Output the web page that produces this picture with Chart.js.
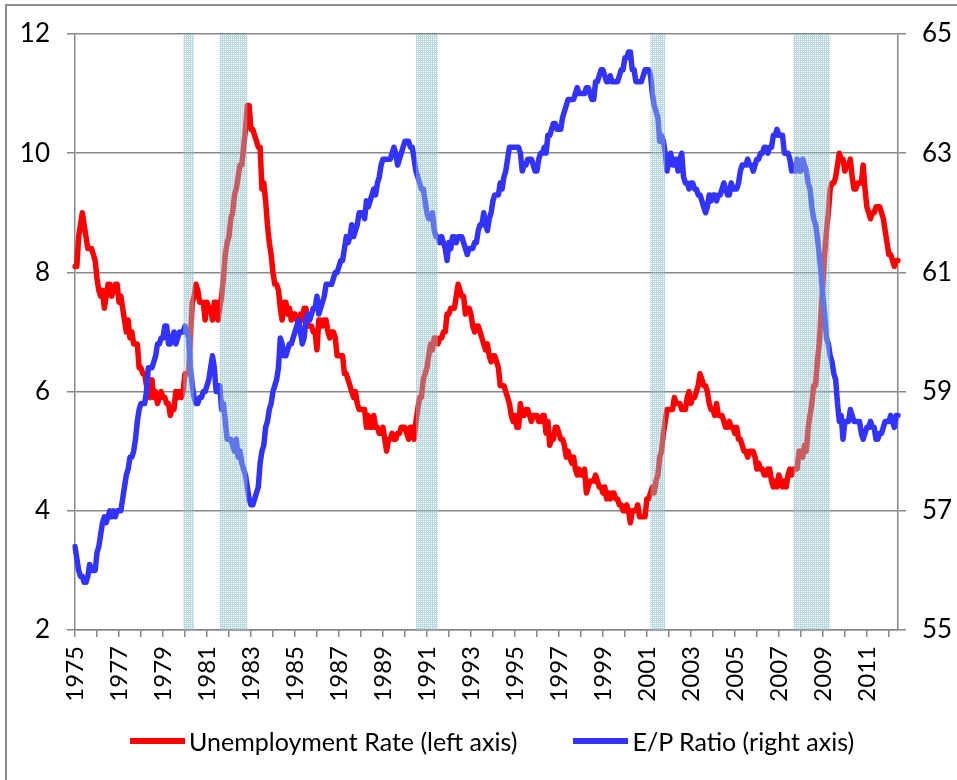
<!DOCTYPE html>
<html>
<head>
<meta charset="utf-8">
<script src="https://cdn.jsdelivr.net/npm/chart.js@4.4.1/dist/chart.umd.min.js"></script>
<style>
  html, body { margin: 0; padding: 0; background: #fff; overflow: hidden; }
  #wrap { position: relative; width: 957px; height: 780px; }
  #frame { position: absolute; left: 5px; top: 4px; width: 1000px; height: 1000px;
           border: 2px solid #8c8c8c; pointer-events: none; }
  #legend { position: absolute; left: 130px; top: 726px; display: flex; align-items: center;
            font: 25px Lato, sans-serif; color: #000; white-space: nowrap; }
  #legend .item { display: flex; align-items: center; margin-right: 56px; }
  #legend .swatch { display: inline-block; width: 55px; height: 6px; margin-right: 4px; }
</style>
</head>
<body>
<div id="wrap">
  <canvas id="chart" width="957" height="780"></canvas>
  <div id="legend"></div>
  <div id="frame"></div>
</div>
<script>
// Monthly series, Jan 1975 - Jun 2012
const firstYear = 1975;

// Unemployment rate, % (left axis)
const unemployment = [
  8.1, 8.1, 8.6, 8.8, 9.0, 8.8, 8.6, 8.4, 8.4, 8.4, 8.3, 8.2, // 1975
  7.9, 7.7, 7.6, 7.7, 7.4, 7.6, 7.8, 7.8, 7.6, 7.7, 7.8, 7.8, // 1976
  7.5, 7.6, 7.4, 7.2, 7.0, 7.2, 6.9, 7.0, 6.8, 6.8, 6.8, 6.4, // 1977
  6.4, 6.3, 6.3, 6.1, 6.0, 5.9, 6.2, 5.9, 6.0, 5.8, 5.9, 6.0, // 1978
  5.9, 5.9, 5.8, 5.8, 5.6, 5.7, 5.7, 6.0, 5.9, 6.0, 5.9, 6.0, // 1979
  6.3, 6.3, 6.3, 6.9, 7.5, 7.6, 7.8, 7.7, 7.5, 7.5, 7.5, 7.2, // 1980
  7.5, 7.4, 7.4, 7.2, 7.5, 7.5, 7.2, 7.4, 7.6, 7.9, 8.3, 8.5, // 1981
  8.6, 8.9, 9.0, 9.3, 9.4, 9.6, 9.8, 9.8, 10.1, 10.4, 10.8, 10.8, // 1982
  10.4, 10.4, 10.3, 10.2, 10.1, 10.1, 9.4, 9.5, 9.2, 8.8, 8.5, 8.3, // 1983
  8.0, 7.8, 7.8, 7.7, 7.4, 7.2, 7.5, 7.5, 7.3, 7.4, 7.2, 7.3, // 1984
  7.3, 7.2, 7.2, 7.3, 7.2, 7.4, 7.4, 7.1, 7.1, 7.1, 7.0, 7.0, // 1985
  6.7, 7.2, 7.2, 7.1, 7.2, 7.2, 7.0, 6.9, 7.0, 7.0, 6.9, 6.6, // 1986
  6.6, 6.6, 6.6, 6.3, 6.3, 6.2, 6.1, 6.0, 5.9, 6.0, 5.8, 5.7, // 1987
  5.7, 5.7, 5.7, 5.4, 5.6, 5.4, 5.4, 5.6, 5.4, 5.4, 5.3, 5.3, // 1988
  5.4, 5.2, 5.0, 5.2, 5.2, 5.3, 5.2, 5.2, 5.3, 5.3, 5.4, 5.4, // 1989
  5.4, 5.3, 5.2, 5.4, 5.4, 5.2, 5.5, 5.7, 5.9, 5.9, 6.2, 6.3, // 1990
  6.4, 6.6, 6.8, 6.7, 6.9, 6.9, 6.8, 6.9, 6.9, 7.0, 7.0, 7.3, // 1991
  7.3, 7.4, 7.4, 7.4, 7.6, 7.8, 7.7, 7.6, 7.6, 7.3, 7.4, 7.4, // 1992
  7.3, 7.1, 7.0, 7.1, 7.1, 7.0, 6.9, 6.8, 6.7, 6.8, 6.6, 6.5, // 1993
  6.6, 6.6, 6.5, 6.4, 6.1, 6.1, 6.1, 6.0, 5.9, 5.8, 5.6, 5.5, // 1994
  5.6, 5.4, 5.4, 5.8, 5.6, 5.6, 5.7, 5.7, 5.6, 5.5, 5.6, 5.6, // 1995
  5.6, 5.5, 5.5, 5.6, 5.6, 5.3, 5.5, 5.1, 5.2, 5.2, 5.4, 5.4, // 1996
  5.3, 5.2, 5.2, 5.1, 4.9, 5.0, 4.9, 4.8, 4.9, 4.7, 4.6, 4.7, // 1997
  4.6, 4.6, 4.7, 4.3, 4.4, 4.5, 4.5, 4.5, 4.6, 4.5, 4.4, 4.4, // 1998
  4.3, 4.4, 4.2, 4.3, 4.2, 4.3, 4.3, 4.2, 4.2, 4.1, 4.1, 4.0, // 1999
  4.0, 4.1, 4.0, 3.8, 4.0, 4.0, 4.0, 4.1, 3.9, 3.9, 3.9, 3.9, // 2000
  4.2, 4.2, 4.3, 4.4, 4.3, 4.5, 4.6, 4.9, 5.0, 5.3, 5.5, 5.7, // 2001
  5.7, 5.7, 5.7, 5.9, 5.8, 5.8, 5.8, 5.7, 5.7, 5.7, 5.9, 6.0, // 2002
  5.8, 5.9, 5.9, 6.0, 6.1, 6.3, 6.2, 6.1, 6.1, 6.0, 5.8, 5.7, // 2003
  5.7, 5.6, 5.8, 5.6, 5.6, 5.6, 5.5, 5.4, 5.4, 5.5, 5.4, 5.4, // 2004
  5.3, 5.4, 5.2, 5.2, 5.1, 5.0, 5.0, 4.9, 5.0, 5.0, 5.0, 4.9, // 2005
  4.7, 4.8, 4.7, 4.7, 4.6, 4.6, 4.7, 4.7, 4.5, 4.4, 4.5, 4.4, // 2006
  4.6, 4.5, 4.4, 4.5, 4.4, 4.6, 4.7, 4.6, 4.7, 4.7, 4.7, 5.0, // 2007
  5.0, 4.9, 5.1, 5.0, 5.4, 5.6, 5.8, 6.1, 6.1, 6.5, 6.8, 7.3, // 2008
  7.8, 8.3, 8.7, 9.0, 9.4, 9.5, 9.5, 9.6, 9.8, 10.0, 9.9, 9.9, // 2009
  9.7, 9.8, 9.8, 9.9, 9.6, 9.4, 9.4, 9.5, 9.5, 9.5, 9.8, 9.4, // 2010
  9.1, 9.0, 8.9, 9.0, 9.0, 9.1, 9.1, 9.1, 9.0, 8.9, 8.7, 8.5, // 2011
  8.3, 8.3, 8.2, 8.1, 8.2, 8.2                                // 2012
];

// Employment-population ratio, % (right axis)
const epRatio = [
  56.4, 56.2, 56.0, 55.9, 55.9, 55.8, 55.8, 55.9, 56.1, 56.0, 56.0, 56.0, // 1975
  56.3, 56.4, 56.6, 56.8, 56.9, 56.8, 56.9, 57.0, 56.9, 57.0, 56.9, 57.0, // 1976
  57.0, 57.0, 57.2, 57.4, 57.6, 57.7, 57.9, 57.9, 58.0, 58.2, 58.5, 58.7, // 1977
  58.8, 58.8, 58.8, 59.0, 59.4, 59.4, 59.4, 59.5, 59.6, 59.8, 59.8, 59.9, // 1978
  59.9, 60.1, 60.1, 59.8, 59.8, 59.9, 60.0, 59.8, 59.9, 60.0, 60.0, 60.0, // 1979
  60.1, 60.0, 59.9, 59.4, 59.1, 58.9, 58.8, 58.8, 58.9, 58.9, 59.0, 59.0, // 1980
  59.1, 59.2, 59.4, 59.6, 59.4, 59.0, 59.1, 59.1, 58.7, 58.8, 58.5, 58.2, // 1981
  58.2, 58.2, 58.1, 58.0, 58.2, 57.9, 58.0, 57.8, 57.7, 57.6, 57.4, 57.2, // 1982
  57.1, 57.1, 57.2, 57.3, 57.4, 57.8, 58.0, 58.1, 58.4, 58.5, 58.7, 58.8, // 1983
  59.0, 59.1, 59.2, 59.4, 59.9, 59.8, 59.6, 59.6, 59.7, 59.8, 59.8, 59.9, // 1984
  60.0, 60.1, 60.2, 60.0, 59.8, 59.9, 60.2, 60.3, 60.2, 60.3, 60.4, 60.4, // 1985
  60.6, 60.3, 60.4, 60.5, 60.6, 60.8, 60.8, 60.8, 60.8, 60.9, 61.0, 61.0, // 1986
  61.1, 61.2, 61.2, 61.4, 61.6, 61.5, 61.6, 61.8, 61.6, 61.7, 61.8, 62.0, // 1987
  62.0, 62.0, 61.9, 62.2, 62.1, 62.2, 62.3, 62.4, 62.3, 62.5, 62.6, 62.8, // 1988
  62.9, 62.9, 62.9, 62.9, 62.9, 63.0, 63.1, 63.0, 62.8, 62.9, 63.0, 63.1, // 1989
  63.2, 63.2, 63.2, 63.1, 63.1, 62.9, 62.7, 62.6, 62.5, 62.4, 62.4, 62.2, // 1990
  62.0, 61.9, 61.9, 62.0, 61.7, 61.6, 61.6, 61.5, 61.6, 61.5, 61.4, 61.2, // 1991
  61.5, 61.4, 61.6, 61.6, 61.5, 61.6, 61.6, 61.6, 61.5, 61.4, 61.3, 61.4, // 1992
  61.4, 61.4, 61.5, 61.5, 61.7, 61.8, 61.8, 62.0, 61.8, 61.7, 61.9, 62.0, // 1993
  62.2, 62.3, 62.3, 62.3, 62.5, 62.4, 62.6, 62.7, 62.9, 63.1, 63.1, 63.1, // 1994
  63.1, 63.1, 63.1, 63.0, 62.7, 62.8, 62.8, 62.9, 62.9, 62.9, 62.8, 62.7, // 1995
  62.7, 62.9, 63.0, 63.0, 63.1, 63.0, 63.3, 63.3, 63.4, 63.5, 63.5, 63.4, // 1996
  63.4, 63.4, 63.6, 63.7, 63.8, 63.9, 63.9, 63.9, 63.9, 64.0, 64.1, 64.0, // 1997
  64.0, 64.0, 64.0, 64.1, 64.1, 64.0, 63.9, 63.9, 64.2, 64.2, 64.3, 64.4, // 1998
  64.4, 64.3, 64.2, 64.2, 64.3, 64.2, 64.2, 64.2, 64.2, 64.3, 64.4, 64.4, // 1999
  64.6, 64.6, 64.7, 64.7, 64.4, 64.4, 64.2, 64.2, 64.2, 64.2, 64.3, 64.4, // 2000
  64.4, 64.4, 64.3, 64.0, 63.8, 63.7, 63.6, 63.2, 63.3, 63.2, 63.0, 62.7, // 2001
  62.9, 63.0, 62.8, 62.8, 62.9, 62.7, 62.9, 63.0, 62.6, 62.5, 62.5, 62.4, // 2002
  62.5, 62.5, 62.4, 62.4, 62.3, 62.3, 62.2, 62.1, 62.0, 62.1, 62.3, 62.2, // 2003
  62.3, 62.3, 62.2, 62.3, 62.3, 62.4, 62.5, 62.4, 62.3, 62.3, 62.5, 62.4, // 2004
  62.4, 62.4, 62.5, 62.7, 62.8, 62.8, 62.8, 62.9, 62.8, 62.8, 62.7, 62.8, // 2005
  62.9, 62.9, 63.0, 63.0, 63.1, 63.1, 63.0, 63.1, 63.1, 63.3, 63.3, 63.4, // 2006
  63.3, 63.3, 63.3, 63.0, 63.0, 63.0, 62.9, 62.7, 62.8, 62.7, 62.9, 62.7, // 2007
  62.7, 62.9, 62.8, 62.7, 62.5, 62.4, 62.1, 61.9, 61.8, 61.6, 61.3, 61.0, // 2008
  60.6, 60.3, 59.9, 59.8, 59.6, 59.5, 59.3, 59.2, 58.8, 58.5, 58.6, 58.2, // 2009
  58.5, 58.5, 58.5, 58.7, 58.6, 58.5, 58.5, 58.5, 58.5, 58.3, 58.2, 58.3, // 2010
  58.4, 58.4, 58.5, 58.4, 58.4, 58.2, 58.2, 58.3, 58.3, 58.4, 58.5, 58.5, // 2011
  58.5, 58.6, 58.5, 58.4, 58.6, 58.6                                      // 2012
];

// Shaded recession periods (first and last month)
const recessions = [
  ["1979-12", "1980-06"],
  ["1981-08", "1982-11"],
  ["1990-07", "1991-07"],
  ["2001-03", "2001-11"],
  ["2007-09", "2009-05"],
];

// Month labels "YYYY-MM"
const labels = unemployment.map((_, i) =>
  (firstYear + Math.floor(i / 12)) + "-" + String(i % 12 + 1).padStart(2, "0"));

const gridColor = "#878787";
const tickFont = { family: "Lato", size: 26 };

// small dotted tile for the recession bands
function hatchTile() {
  const c = document.createElement("canvas");
  c.width = 2; c.height = 2;
  const g = c.getContext("2d");
  g.fillStyle = "rgba(128,184,197,0.55)";
  g.fillRect(0, 0, 2, 2);
  g.clearRect(1, 1, 1, 1);
  g.fillStyle = "rgba(255,255,255,0.25)";
  g.fillRect(1, 1, 1, 1);
  return c;
}

const recessionShading = {
  id: "recessionShading",
  afterDatasetsDraw(chart) {
    const { ctx, chartArea, scales: { x } } = chart;
    ctx.save();
    ctx.fillStyle = ctx.createPattern(hatchTile(), "repeat");
    recessions.forEach(([from, to]) => {
      const x0 = x.getPixelForValue(labels.indexOf(from));
      const x1 = x.getPixelForValue(labels.indexOf(to));
      ctx.fillRect(x0, chartArea.top, x1 - x0, chartArea.bottom - chartArea.top);
    });
    ctx.restore();
  },
};

const chart = new Chart(document.getElementById("chart"), {
  type: "line",
  plugins: [recessionShading],
  data: {
    labels: labels,
    datasets: [
      {
        label: "Unemployment Rate (left axis)",
        data: unemployment,
        yAxisID: "y",
        borderColor: "#ff0000",
        backgroundColor: "#ff0000",
        order: 1,
      },
      {
        label: "E/P Ratio (right axis)",
        data: epRatio,
        yAxisID: "y1",
        borderColor: "#3333ff",
        backgroundColor: "#3333ff",
        order: 0,
      },
    ],
  },
  options: {
    responsive: false,
    animation: false,
    devicePixelRatio: 1,
    layout: { padding: { top: 34, left: 0, right: 0, bottom: 70 } },
    elements: {
      point: { radius: 0 },
      line: { borderWidth: 5.5, tension: 0, borderJoinStyle: "round", borderCapStyle: "round" },
    },
    scales: {
      x: {
        type: "category",
        offset: false,
        afterBuildTicks: (s) => { s.ticks = s.ticks.filter((t) => t.value % 12 === 0); },
        afterFit: (s) => { s.height = 80; },
        grid: { drawOnChartArea: false, drawTicks: true, tickLength: 7, color: gridColor, lineWidth: 1.5 },
        border: { color: gridColor, width: 1.5 },
        ticks: {
          autoSkip: false,
          maxRotation: 90,
          minRotation: 90,
          padding: 9,
          color: "#000",
          font: { family: "Lato", size: 24 },
          callback: function (value) {
            const yr = +this.getLabelForValue(value).slice(0, 4);
            return yr % 2 ? String(yr) : "";
          },
        },
      },
      y: {
        position: "left",
        min: 2,
        max: 12,
        afterFit: (s) => { s.width = 75; },
        grid: { color: gridColor, lineWidth: 1.5, tickLength: 8 },
        border: { color: gridColor, width: 1.5 },
        ticks: { stepSize: 2, padding: 17, color: "#000", font: tickFont },
      },
      y1: {
        position: "right",
        min: 55,
        max: 65,
        afterFit: (s) => { s.width = 957 - 898; },
        grid: { drawOnChartArea: false, color: gridColor, lineWidth: 1.5, tickLength: 8 },
        border: { color: gridColor, width: 1.5 },
        ticks: { stepSize: 2, padding: 16, color: "#000", font: tickFont },
      },
    },
    plugins: {
      tooltip: { enabled: false },
      legend: { display: false },
    },
  },
});

// legend below the axis, built from the datasets
const legendEl = document.getElementById("legend");
chart.data.datasets.forEach((ds) => {
  const item = document.createElement("span");
  item.className = "item";
  const sw = document.createElement("span");
  sw.className = "swatch";
  sw.style.background = ds.borderColor;
  const txt = document.createElement("span");
  txt.textContent = ds.label;
  item.appendChild(sw);
  item.appendChild(txt);
  legendEl.appendChild(item);
});
</script>
</body>
</html>
